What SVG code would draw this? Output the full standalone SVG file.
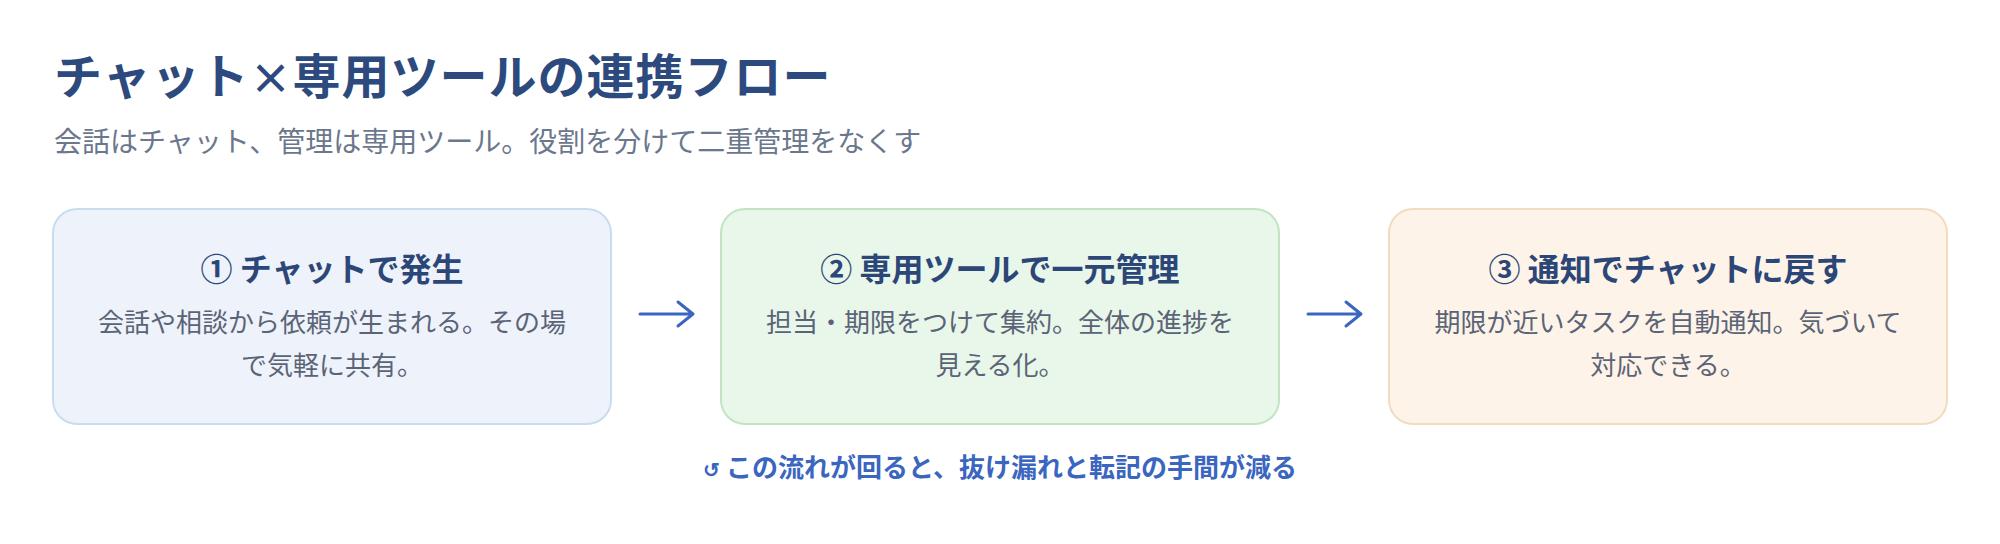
<svg xmlns="http://www.w3.org/2000/svg" width="2000" height="544" viewBox="0 0 2000 544">
  <style>
    text { font-family: "Noto Sans CJK JP", "Noto Sans", sans-serif; }
    .title { font-size: 48px; font-weight: 700; fill: #2c4a7e; letter-spacing: 1px; }
    .sub { font-size: 28px; fill: #6b778c; }
    .box { stroke-width: 2; }
    .b1 { fill: #eef2fb; stroke: #c8dcf1; }
    .b2 { fill: #e9f6ea; stroke: #c0e4c4; }
    .b3 { fill: #fdf3e9; stroke: #f1dcc0; }
    .ntitle { font-size: 32px; font-weight: 700; fill: #2c4777; text-anchor: middle; }
    .body { font-size: 26px; fill: #5b6476; text-anchor: middle; }
    .conn { fill: none; stroke: #3a66c0; stroke-width: 3; stroke-linecap: round; stroke-linejoin: round; }
    .foot { font-size: 26px; font-weight: 700; fill: #3a66c0; text-anchor: middle; }
  </style>
  <rect width="2000" height="544" fill="#ffffff"/>
  <g id="header">
    <text class="title" x="54" y="94">チャット<tspan font-size="42px">×</tspan>専用ツールの連携フロー</text>
    <text class="sub" x="54" y="152">会話はチャット、管理は専用ツール。役割を分けて二重管理をなくす</text>
  </g>
  <g id="node1">
    <rect class="box b1" x="53" y="209" width="558" height="215" rx="24"/>
    <text class="ntitle" x="332" y="281">① チャットで発生</text>
    <text class="body" x="332" y="332">会話や相談から依頼が生まれる。その場</text>
    <text class="body" x="332" y="375">で気軽に共有。</text>
  </g>
  <g id="node2">
    <rect class="box b2" x="721" y="209" width="558" height="215" rx="24"/>
    <text class="ntitle" x="1000" y="281">② 専用ツールで一元管理</text>
    <text class="body" x="1000" y="332">担当・期限をつけて集約。全体の進捗を</text>
    <text class="body" x="1000" y="375">見える化。</text>
  </g>
  <g id="node3">
    <rect class="box b3" x="1389" y="209" width="558" height="215" rx="24"/>
    <text class="ntitle" x="1668" y="281">③ 通知でチャットに戻す</text>
    <text class="body" x="1668" y="332">期限が近いタスクを自動通知。気づいて</text>
    <text class="body" x="1668" y="375">対応できる。</text>
  </g>
  <g id="connectors">
    <path class="conn" d="M640 314 H692 M678 302 L693 314 L678 326"/>
    <path class="conn" d="M1308 314 H1360 M1346 302 L1361 314 L1346 326"/>
  </g>
  <g id="footer">
    <text class="foot" x="1000" y="477"><tspan font-size="20px">↺</tspan> この流れが回ると、抜け漏れと転記の手間が減る</text>
  </g>
</svg>
